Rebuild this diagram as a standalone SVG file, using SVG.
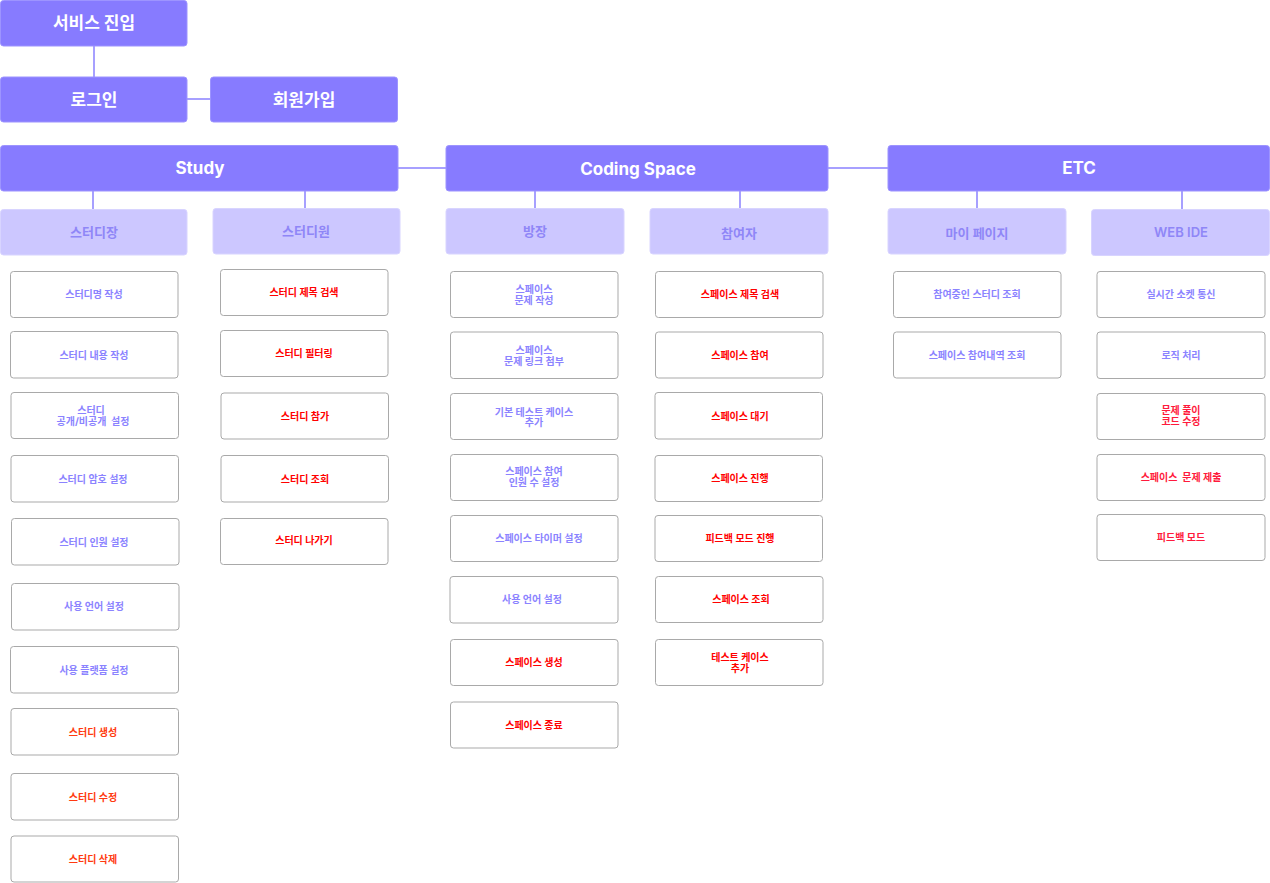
<svg xmlns="http://www.w3.org/2000/svg" width="1270" height="883" viewBox="0 0 1270 883">
<style>
text{font-family:Inter,"Noto Sans CJK KR","Noto Sans",sans-serif;text-anchor:middle;dominant-baseline:central;white-space:pre}
.h rect{fill:#877bff;stroke:#9d94ff;stroke-width:1}
.h text{fill:#fff;font-size:17px;font-weight:700}
.s rect{fill:#ccc7ff;stroke:#d8d4ff;stroke-width:1}
.s text{fill:#8f86f7;font-size:13px;font-weight:600}
.l rect{fill:#fff;stroke:#a9a9a9;stroke-width:1}
.l text{font-size:10px;font-weight:700;fill:#8b83ff}
.l.r text{fill:#ff0000}
.l.o text{fill:#ff3a10}
.l.p text{fill:#ff1a3c}
#connectors line{stroke:#8a80ff;stroke-width:1.5}
</style>
<g id="connectors">
<line x1="94" y1="46" x2="94" y2="77"/>
<line x1="187" y1="99" x2="210" y2="99"/>
<line x1="398" y1="168" x2="446" y2="168"/>
<line x1="828" y1="168" x2="888" y2="168"/>
<line x1="93" y1="191" x2="93" y2="209"/>
<line x1="305" y1="191" x2="305" y2="208"/>
<line x1="535" y1="191" x2="535" y2="208"/>
<line x1="740" y1="191" x2="740" y2="208"/>
<line x1="977" y1="191" x2="977" y2="208"/>
<line x1="1182" y1="191" x2="1182" y2="209"/>
</g>
<g id="n-entry" class="h"><rect x="0.5" y="0.5" width="186.5" height="45.5" rx="3"/><text x="94" y="23">서비스 진입</text></g>
<g id="n-login" class="h"><rect x="0.5" y="77" width="186.5" height="45" rx="3"/><text x="94" y="99.5">로그인</text></g>
<g id="n-signup" class="h"><rect x="210.5" y="77" width="187" height="45" rx="3"/><text x="304" y="99.5">회원가입</text></g>
<g id="n-study" class="h"><rect x="0.5" y="145.5" width="397.5" height="45.5" rx="3"/><text x="200" y="168">Study</text></g>
<g id="n-coding" class="h"><rect x="446" y="145.5" width="382" height="45.5" rx="3"/><text x="638" y="169">Coding Space</text></g>
<g id="n-etc" class="h"><rect x="888" y="145.5" width="381.5" height="45.5" rx="3"/><text x="1079" y="168">ETC</text></g>

<g id="n-leader" class="s"><rect x="0.5" y="209.5" width="186.5" height="45.5" rx="3"/><text x="94" y="232">스터디장</text></g>
<g id="n-member" class="s"><rect x="213" y="208.5" width="187" height="45.5" rx="3"/><text x="306" y="231">스터디원</text></g>
<g id="n-owner" class="s"><rect x="446" y="208.5" width="178" height="45.5" rx="3"/><text x="535" y="231">방장</text></g>
<g id="n-part" class="s"><rect x="650" y="208.5" width="178" height="45.5" rx="3"/><text x="739" y="233">참여자</text></g>
<g id="n-my" class="s"><rect x="888" y="208.5" width="178" height="45.5" rx="3"/><text x="977" y="233">마이 페이지</text></g>
<g id="n-ide" class="s"><rect x="1091.5" y="209.5" width="178" height="46" rx="3"/><text x="1181" y="232">WEB IDE</text></g>

<g id="a1" class="l"><rect x="10.5" y="271.5" width="167.5" height="46" rx="3"/><text x="94" y="294">스터디명 작성</text></g>
<g id="a2" class="l"><rect x="10.5" y="331.5" width="167.5" height="46.5" rx="3"/><text x="94" y="355">스터디 내용 작성</text></g>
<g id="a3" class="l"><rect x="11" y="392.5" width="167.5" height="46" rx="3"/><text x="91" y="410">스터디</text><text x="93" y="421">공개/비공개  설정</text></g>
<g id="a4" class="l"><rect x="11" y="455.5" width="167.5" height="46.5" rx="3"/><text x="93" y="479">스터디 암호 설정</text></g>
<g id="a5" class="l"><rect x="11.5" y="518.5" width="167.5" height="46.5" rx="3"/><text x="94" y="542">스터디 인원 설정</text></g>
<g id="a6" class="l"><rect x="11.5" y="583.5" width="167.5" height="46.5" rx="3"/><text x="94" y="606">사용 언어 설정</text></g>
<g id="a7" class="l"><rect x="10.5" y="646.5" width="168" height="46.5" rx="3"/><text x="94" y="670">사용 플랫폼 설정</text></g>
<g id="a8" class="l o"><rect x="11" y="708.5" width="167.5" height="46.5" rx="3"/><text x="93" y="732">스터디 생성</text></g>
<g id="a9" class="l o"><rect x="11" y="773.5" width="167.5" height="46.5" rx="3"/><text x="93" y="797">스터디 수정</text></g>
<g id="a10" class="l o"><rect x="11" y="836" width="167.5" height="46" rx="3"/><text x="93" y="859">스터디 삭제</text></g>

<g id="b1" class="l r"><rect x="220.5" y="269.5" width="167.5" height="46" rx="3"/><text x="304" y="292">스터디 제목 검색</text></g>
<g id="b2" class="l r"><rect x="220.5" y="330.5" width="167.5" height="46" rx="3"/><text x="304" y="353">스터디 필터링</text></g>
<g id="b3" class="l r"><rect x="221" y="393" width="167.5" height="46" rx="3"/><text x="305" y="416">스터디 참가</text></g>
<g id="b4" class="l r"><rect x="221" y="455.5" width="167.5" height="46.5" rx="3"/><text x="305" y="479">스터디 조회</text></g>
<g id="b5" class="l r"><rect x="220.5" y="518.5" width="167.5" height="46" rx="3"/><text x="304" y="540">스터디 나가기</text></g>

<g id="c1" class="l"><rect x="450.5" y="271.5" width="167.5" height="46" rx="3"/><text x="534" y="289">스페이스</text><text x="534" y="300">문제 작성</text></g>
<g id="c2" class="l"><rect x="450.5" y="332" width="167.5" height="46.5" rx="3"/><text x="534" y="350">스페이스</text><text x="534" y="361">문제 링크 첨부</text></g>
<g id="c3" class="l"><rect x="450.5" y="393.5" width="167.5" height="46" rx="3"/><text x="534" y="412">기본 테스트 케이스</text><text x="534" y="422">추가</text></g>
<g id="c4" class="l"><rect x="450.5" y="454.5" width="167.5" height="46" rx="3"/><text x="534" y="471">스페이스 참여</text><text x="534" y="482">인원 수 설정</text></g>
<g id="c5" class="l"><rect x="450.5" y="515.5" width="167.5" height="46" rx="3"/><text x="539" y="538">스페이스 타이머 설정</text></g>
<g id="c6" class="l"><rect x="450" y="576.5" width="168" height="46.5" rx="3"/><text x="532" y="599">사용 언어 설정</text></g>
<g id="c7" class="l r"><rect x="450.5" y="639.5" width="167.5" height="46" rx="3"/><text x="534" y="662">스페이스 생성</text></g>
<g id="c8" class="l r"><rect x="450.5" y="702" width="167.5" height="46" rx="3"/><text x="534" y="725">스페이스 종료</text></g>

<g id="d1" class="l r"><rect x="655.5" y="271.5" width="167.5" height="46" rx="3"/><text x="740" y="294">스페이스 제목 검색</text></g>
<g id="d2" class="l r"><rect x="655.5" y="332" width="167.5" height="46" rx="3"/><text x="740" y="355">스페이스 참여</text></g>
<g id="d3" class="l r"><rect x="655" y="392.5" width="167.5" height="46.5" rx="3"/><text x="740" y="416">스페이스 대기</text></g>
<g id="d4" class="l r"><rect x="655" y="455.5" width="167.5" height="46" rx="3"/><text x="740" y="478">스페이스 진행</text></g>
<g id="d5" class="l r"><rect x="655" y="515.5" width="167.5" height="46" rx="3"/><text x="740" y="538">피드백 모드 진행</text></g>
<g id="d6" class="l r"><rect x="655.5" y="576.5" width="167.5" height="46" rx="3"/><text x="741" y="599">스페이스 조회</text></g>
<g id="d7" class="l r"><rect x="655.5" y="639.5" width="167.5" height="46" rx="3"/><text x="740" y="657">테스트 케이스</text><text x="740" y="668">추가</text></g>

<g id="e1" class="l"><rect x="893.5" y="271.5" width="167.5" height="46" rx="3"/><text x="977" y="294">참여중인 스터디 조회</text></g>
<g id="e2" class="l"><rect x="893.5" y="332" width="167.5" height="46" rx="3"/><text x="977" y="355">스페이스 참여내역 조회</text></g>

<g id="f1" class="l"><rect x="1097" y="271.5" width="168" height="46" rx="3"/><text x="1181" y="294">실시간 소켓 통신</text></g>
<g id="f2" class="l"><rect x="1097" y="332" width="168" height="46.5" rx="3"/><text x="1181" y="355">로직 처리</text></g>
<g id="f3" class="l p"><rect x="1097" y="393.5" width="168" height="46" rx="3"/><text x="1181" y="410">문제 풀이</text><text x="1181" y="421">코드 수정</text></g>
<g id="f4" class="l p"><rect x="1097" y="454.5" width="168" height="46" rx="3"/><text x="1181" y="477">스페이스  문제 제출</text></g>
<g id="f5" class="l p"><rect x="1097" y="514.5" width="168" height="46" rx="3"/><text x="1181" y="537">피드백 모드</text></g>
</svg>
